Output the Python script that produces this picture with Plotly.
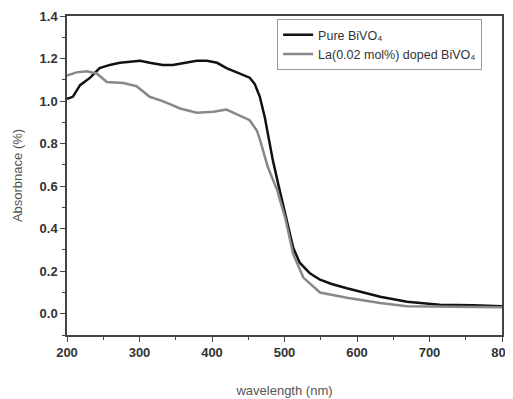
import plotly.graph_objects as go

# Pure BiVO4
pure_wl = [200, 208, 218, 232, 245, 259, 273, 301, 314, 332, 346, 365, 379, 393, 407, 420,
           439, 452, 459, 466, 473, 484, 492, 501, 512, 521, 535, 549, 565, 586, 610, 632,
           669, 714, 760, 800]
pure_abs = [1.01, 1.02, 1.075, 1.11, 1.155, 1.17, 1.18, 1.19, 1.18, 1.17, 1.17, 1.18, 1.19, 1.19,
            1.18, 1.155, 1.13, 1.11, 1.08, 1.02, 0.92, 0.72, 0.60, 0.47, 0.31, 0.24, 0.19, 0.16,
            0.14, 0.12, 0.10, 0.08, 0.056, 0.042, 0.04, 0.035]

# La(0.02 mol%) doped BiVO4
la_wl = [200, 213, 227, 241, 255, 278, 296, 314, 332, 356, 379, 402, 420, 443, 452, 462, 466,
         477, 490, 501, 512, 526, 549, 586, 632, 669, 714, 760, 800]
la_abs = [1.12, 1.135, 1.14, 1.13, 1.09, 1.085, 1.07, 1.02, 1.0, 0.965, 0.945, 0.95, 0.96, 0.925,
          0.91, 0.86, 0.82, 0.69, 0.58, 0.45, 0.28, 0.17, 0.10, 0.075, 0.05, 0.035, 0.033, 0.03, 0.03]

x_ticks = [200, 300, 400, 500, 600, 700, 800]
y_ticks = [0.0, 0.2, 0.4, 0.6, 0.8, 1.0, 1.2, 1.4]

fig = go.Figure()
fig.add_trace(go.Scatter(x=pure_wl, y=pure_abs, mode="lines", name="Pure BiVO\u2084",
                         line=dict(color="#111111", width=2.5)))
fig.add_trace(go.Scatter(x=la_wl, y=la_abs, mode="lines",
                         name="La(0.02 mol%) doped BiVO\u2084",
                         line=dict(color="#888888", width=2.5)))

axis_common = dict(showline=True, linecolor="#444444", linewidth=1.5, mirror=True,
                   ticks="outside", ticklen=5, tickwidth=1.2, tickcolor="#444444",
                   showgrid=False, zeroline=False, automargin=False,
                   tickfont=dict(family="Liberation Sans, Arial", size=13, color="#333333",
                                 weight="bold"),
                   title_font=dict(family="Liberation Sans, Arial", size=13, color="#555555"))

# the page body adds an 8px offset, so the figure is 8px smaller than the window
fig.update_layout(
    width=505, height=391,
    margin=dict(l=59, r=11, t=8, b=64),
    paper_bgcolor="white", plot_bgcolor="white",
    showlegend=True,
    legend=dict(x=0.483, y=0.99, xanchor="left", yanchor="top",
                bordercolor="#999999", borderwidth=1, bgcolor="white",
                font=dict(family="Liberation Sans, Arial", size=12.5, color="#333333"),
                tracegroupgap=0, itemwidth=30),
    xaxis=dict(range=[200, 800], tickvals=x_ticks,
               ticktext=[str(v) for v in x_ticks],
               minor=dict(ticks="outside", ticklen=3, dtick=50, tickcolor="#444444"),
               title=dict(text="wavelength (nm)", standoff=27), **axis_common),
    yaxis=dict(range=[-0.1, 1.4], tickvals=y_ticks,
               ticktext=[f"{v:.1f}" for v in y_ticks],
               minor=dict(ticks="outside", ticklen=3, dtick=0.1, tickcolor="#444444"),
               title=dict(text="Absorbnace (%)", standoff=14), **axis_common),
)

fig.write_html("out.html")
